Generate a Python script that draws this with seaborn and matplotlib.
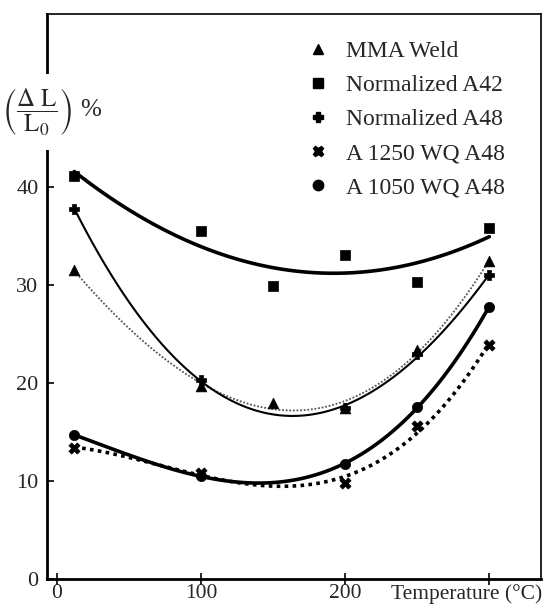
import numpy as np
import pandas as pd
import seaborn as sns
import matplotlib.pyplot as plt
from matplotlib.lines import Line2D

# Values (elongation % vs test temperature)
mma_temps = [12, 100, 150, 200, 250, 300]
mma_weld = [31.5, 19.7, 18.0, 17.5, 23.4, 32.5]

a42_temps = [12, 100, 150, 200, 250, 300]
norm_a42 = [41.2, 35.5, 29.9, 33.1, 30.3, 35.8]

a48_temps = [12, 100, 200, 250, 300]
norm_a48 = [37.8, 20.3, 17.4, 23.0, 31.0]

wq_temps = [12, 100, 200, 250, 300]
wq1250_a48 = [13.4, 10.8, 9.8, 15.6, 23.9]
wq1050_a48 = [14.7, 10.5, 11.7, 17.6, 27.8]

x_ticks = [0, 100, 200, 300]
x_tick_labels = ["0", "100", "200", ""]
y_ticks = [0, 10, 20, 30, 40]

sns.set_theme(style="white")
plt.rcParams["font.family"] = ["Liberation Serif", "DejaVu Serif"]
plt.rcParams["mathtext.fontset"] = "stix"

fig = plt.figure(figsize=(5.45, 6.08), dpi=100)
ax = fig.add_axes([0.086, 0.048, 0.907, 0.929])

# series: (label, temps, values, marker, marker size, line style, line width, line colour, fit order)
series = [
    ("MMA Weld", mma_temps, mma_weld, "^", 60, (0, (1, 1)), 1.3, "#555555", 3),
    ("Normalized A42", a42_temps, norm_a42, "s", 55, "-", 2.6, "black", 2),
    ("Normalized A48", a48_temps, norm_a48, "P", 60, "-", 1.5, "black", 3),
    ("A 1250 WQ A48", wq_temps, wq1250_a48, "X", 65, (0, (1, 1.2)), 2.6, "black", 3),
    ("A 1050 WQ A48", wq_temps, wq1050_a48, "o", 55, "-", 2.6, "black", 3),
]

handles = []
for label, temps, vals, marker, size, ls, lw, col, order in series:
    df = pd.DataFrame({"T": temps, "v": vals})
    # fitted trend curve
    sns.regplot(data=df, x="T", y="v", order=order, ci=None, scatter=False,
                truncate=True, ax=ax,
                line_kws={"color": col, "lw": lw, "ls": ls, "zorder": 2})
    # measured points
    sns.scatterplot(data=df, x="T", y="v", marker=marker, s=size, color="black",
                    edgecolor="black", linewidth=0.5, ax=ax, zorder=3)
    handles.append(Line2D([], [], marker=marker, ls="none", color="black",
                          markersize=7.5, label=label))

ax.set_xlim(-7, 336)
ax.set_ylim(0, 57.7)
ax.set_xticks(x_ticks)
ax.set_xticklabels(x_tick_labels)
ax.set_yticks(y_ticks)
ax.set_xlabel("")
ax.set_ylabel("")
ax.tick_params(axis="x", direction="inout", length=8, width=1.2, labelsize=15.5, pad=0, color="black")
ax.tick_params(axis="y", direction="in", length=5, width=1.2, labelsize=16, pad=6, left=True, color="black")
ax.xaxis.set_ticks_position("bottom")

# x axis title sits where the 300 label would be
ax.text(1.003, -0.009, "Temperature (°C)", transform=ax.transAxes, ha="right", va="top",
        fontsize=15.5)

for side in ["left", "bottom"]:
    ax.spines[side].set_linewidth(2.0)
    ax.spines[side].set_color("black")
for side in ["top", "right"]:
    ax.spines[side].set_linewidth(1.2)
    ax.spines[side].set_color("black")

leg = ax.legend(handles=handles, loc="upper left", bbox_to_anchor=(0.506, 0.970),
                frameon=False, fontsize=17, handletextpad=0.69, labelspacing=0.53,
                handlelength=1.0, borderaxespad=0)

# y axis label sits over the left spine
fig.text(0.095, 0.816, r"$\left(\dfrac{\Delta\ \mathrm{L}}{\mathrm{L}_0}\right)$ %",
         fontsize=18, ha="center", va="center",
         bbox=dict(facecolor="white", edgecolor="none", pad=9))

fig.savefig("out.png", dpi=100)
